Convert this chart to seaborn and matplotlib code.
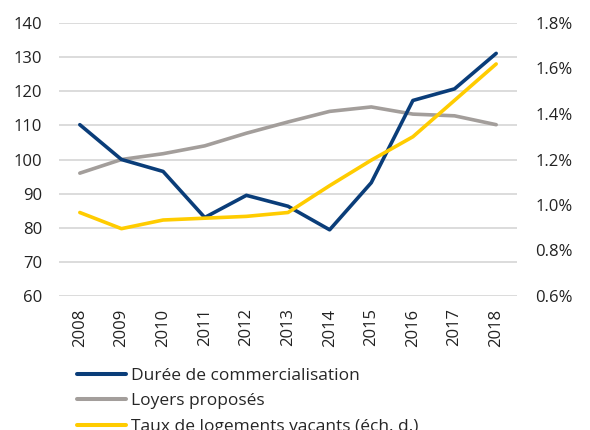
import matplotlib
matplotlib.use("Agg")
import matplotlib.pyplot as plt
import seaborn as sns
import pandas as pd
from matplotlib.lines import Line2D
from matplotlib.ticker import FuncFormatter

years = ["2008", "2009", "2010", "2011", "2012", "2013", "2014", "2015", "2016", "2017", "2018"]
duree = [110.2, 100.0, 96.5, 83.0, 89.5, 86.3, 79.4, 93.2, 117.3, 120.7, 131.1]
loyers = [96.0, 100.0, 101.7, 104.0, 107.7, 111.0, 114.1, 115.4, 113.3, 112.8, 110.2]
vacants = [0.967, 0.896, 0.934, 0.942, 0.950, 0.967, 1.085, 1.197, 1.300, 1.460, 1.620]

labels = ["Durée de commercialisation", "Loyers proposés", "Taux de logements vacants (éch. d.)"]
colors = ["#0A3D79", "#A39E9B", "#FFCC00"]

sns.set_theme(style="white")
plt.rcParams["font.family"] = ["Open Sans", "DejaVu Sans"]

df = pd.DataFrame({"x": range(len(years)), "duree": duree, "loyers": loyers, "vacants": vacants})

fig = plt.figure(figsize=(5.9, 4.3), dpi=100)
ax = fig.add_axes([59/590, 1 - 296/430, (517-59)/590, (296-23)/430])
ax2 = ax.twinx()

lw = 2.6
sns.lineplot(data=df, x="x", y="loyers", ax=ax, color=colors[1], linewidth=lw, zorder=3)
sns.lineplot(data=df, x="x", y="duree", ax=ax, color=colors[0], linewidth=lw, zorder=4)
sns.lineplot(data=df, x="x", y="vacants", ax=ax2, color=colors[2], linewidth=lw, zorder=5)

ax.set_xlim(-0.5, len(years) - 0.5)
ax.set_ylim(60, 140)
ax.set_yticks(range(60, 141, 10))
ax2.set_ylim(0.6, 1.8)
ax2.set_yticks([0.6, 0.8, 1.0, 1.2, 1.4, 1.6, 1.8])
ax2.yaxis.set_major_formatter(FuncFormatter(lambda v, p: f"{v:.1f}%"))

ax.set_xticks(range(len(years)))
ax.set_xticklabels(years, rotation=90)
ax.set_xlabel("")
ax.set_ylabel("")
ax2.set_ylabel("")

ax.grid(axis="y", color="#D9D9D9", linewidth=1.3)
ax.set_axisbelow(True)
for a in (ax, ax2):
    for s in a.spines.values():
        s.set_visible(False)
    a.tick_params(length=0, labelsize=12, colors="#222222")
ax.tick_params(axis="y", pad=12)
ax2.tick_params(axis="y", pad=13)
ax.tick_params(axis="x", pad=9)

ax.set_zorder(1)
ax2.set_zorder(2)
ax.patch.set_visible(False)

handles = [Line2D([0], [0], color=c, linewidth=lw + 0.3) for c in colors]
fig.legend(handles, labels, loc="upper left", bbox_to_anchor=(74/590, 1 - 364/430),
           frameon=False, fontsize=12.5, handlelength=2.8, handletextpad=0.3,
           labelspacing=0.55, borderaxespad=0, borderpad=0.2)

fig.savefig("out.png", dpi=100)
